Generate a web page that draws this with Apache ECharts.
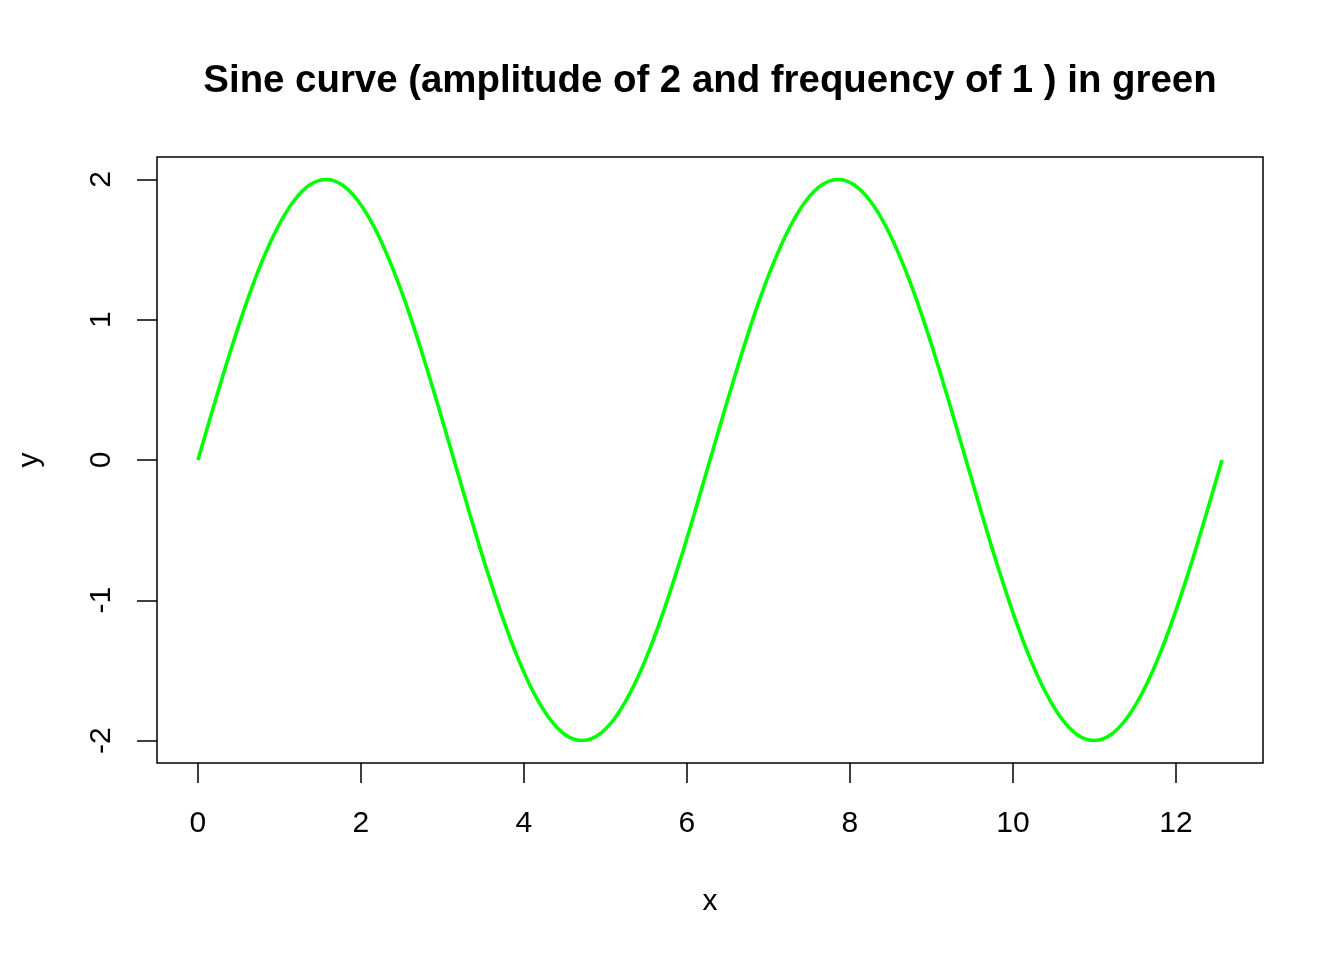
<!DOCTYPE html>
<html>
<head>
<meta charset="utf-8">
<script src="https://cdn.jsdelivr.net/npm/echarts@6/dist/echarts.min.js"></script>
<style>html,body{margin:0;padding:0;background:#fff;}#c{width:1344px;height:960px;}</style>
</head>
<body>
<div id="c"></div>
<script>
const titleText = 'Sine curve (amplitude of 2 and frequency of 1 ) in green';
const xTicks = [0, 2, 4, 6, 8, 10, 12];
const yTicks = [-2, -1, 0, 1, 2];
const xValues = [0, 0.196, 0.393, 0.589, 0.785, 0.982, 1.178, 1.374, 1.571, 1.767, 1.963, 2.160, 2.356, 2.553, 2.749, 2.945,
  3.142, 3.338, 3.534, 3.731, 3.927, 4.123, 4.320, 4.516, 4.712, 4.909, 5.105, 5.301, 5.498, 5.694, 5.890, 6.087,
  6.283, 6.480, 6.676, 6.872, 7.069, 7.265, 7.461, 7.658, 7.854, 8.050, 8.247, 8.443, 8.639, 8.836, 9.032, 9.228,
  9.425, 9.621, 9.817, 10.014, 10.210, 10.407, 10.603, 10.799, 10.996, 11.192, 11.388, 11.585, 11.781, 11.977, 12.174, 12.370,
  12.566];
const yValues = [0, 0.390, 0.765, 1.111, 1.414, 1.663, 1.848, 1.962, 2.000, 1.962, 1.848, 1.663, 1.414, 1.111, 0.765, 0.390,
  0, -0.390, -0.765, -1.111, -1.414, -1.663, -1.848, -1.962, -2.000, -1.962, -1.848, -1.663, -1.414, -1.111, -0.765, -0.390,
  0, 0.390, 0.765, 1.111, 1.414, 1.663, 1.848, 1.962, 2.000, 1.962, 1.848, 1.663, 1.414, 1.111, 0.765, 0.390,
  0, -0.390, -0.765, -1.111, -1.414, -1.663, -1.848, -1.962, -2.000, -1.962, -1.848, -1.663, -1.414, -1.111, -0.765, -0.390,
  0];

const font = 'Liberation Sans, Arial, sans-serif';
const chart = echarts.init(document.getElementById('c'), null, {renderer: 'canvas'});
const xmin = 0 - 0.04 * 12.566, xmax = 12.566 + 0.04 * 12.566;
chart.setOption({
  animation: false,
  backgroundColor: '#fff',
  title: {
    text: titleText, left: 705, top: 57, textAlign: 'center',
    textStyle: {fontFamily: font, fontWeight: 'bold', fontSize: 38.4, color: '#000'}
  },
  grid: {left: 157, right: 81, top: 157, bottom: 197, show: true, borderColor: '#000', borderWidth: 1.5, backgroundColor: 'transparent'},
  xAxis: {
    type: 'value', min: xmin, max: xmax,
    name: 'x', nameLocation: 'middle', nameGap: 124,
    nameTextStyle: {fontFamily: font, fontSize: 30, color: '#000'},
    axisLine: {show: false, onZero: false},
    splitLine: {show: false},
    axisTick: {show: true, length: 20, lineStyle: {color: '#000', width: 1.5}, customValues: xTicks},
    axisLabel: {fontFamily: font, fontSize: 30, color: '#000', margin: 46, customValues: xTicks, formatter: v => String(v)}
  },
  yAxis: {
    type: 'value', min: -2.16, max: 2.16,
    name: 'y', nameLocation: 'middle', nameGap: 112, nameRotate: 90,
    nameTextStyle: {fontFamily: font, fontSize: 30, color: '#000'},
    axisLine: {show: false, onZero: false},
    splitLine: {show: false},
    axisTick: {show: true, length: 20, lineStyle: {color: '#000', width: 1.5}, customValues: yTicks},
    axisLabel: {fontFamily: font, fontSize: 30, color: '#000', margin: 40, rotate: 90, customValues: yTicks, formatter: v => String(v)}
  },
  series: [{
    type: 'line', data: xValues.map((x, i) => [x, yValues[i]]),
    showSymbol: false, smooth: 0.3,
    lineStyle: {color: '#00ff00', width: 3.6}
  }]
});
</script>
</body>
</html>
